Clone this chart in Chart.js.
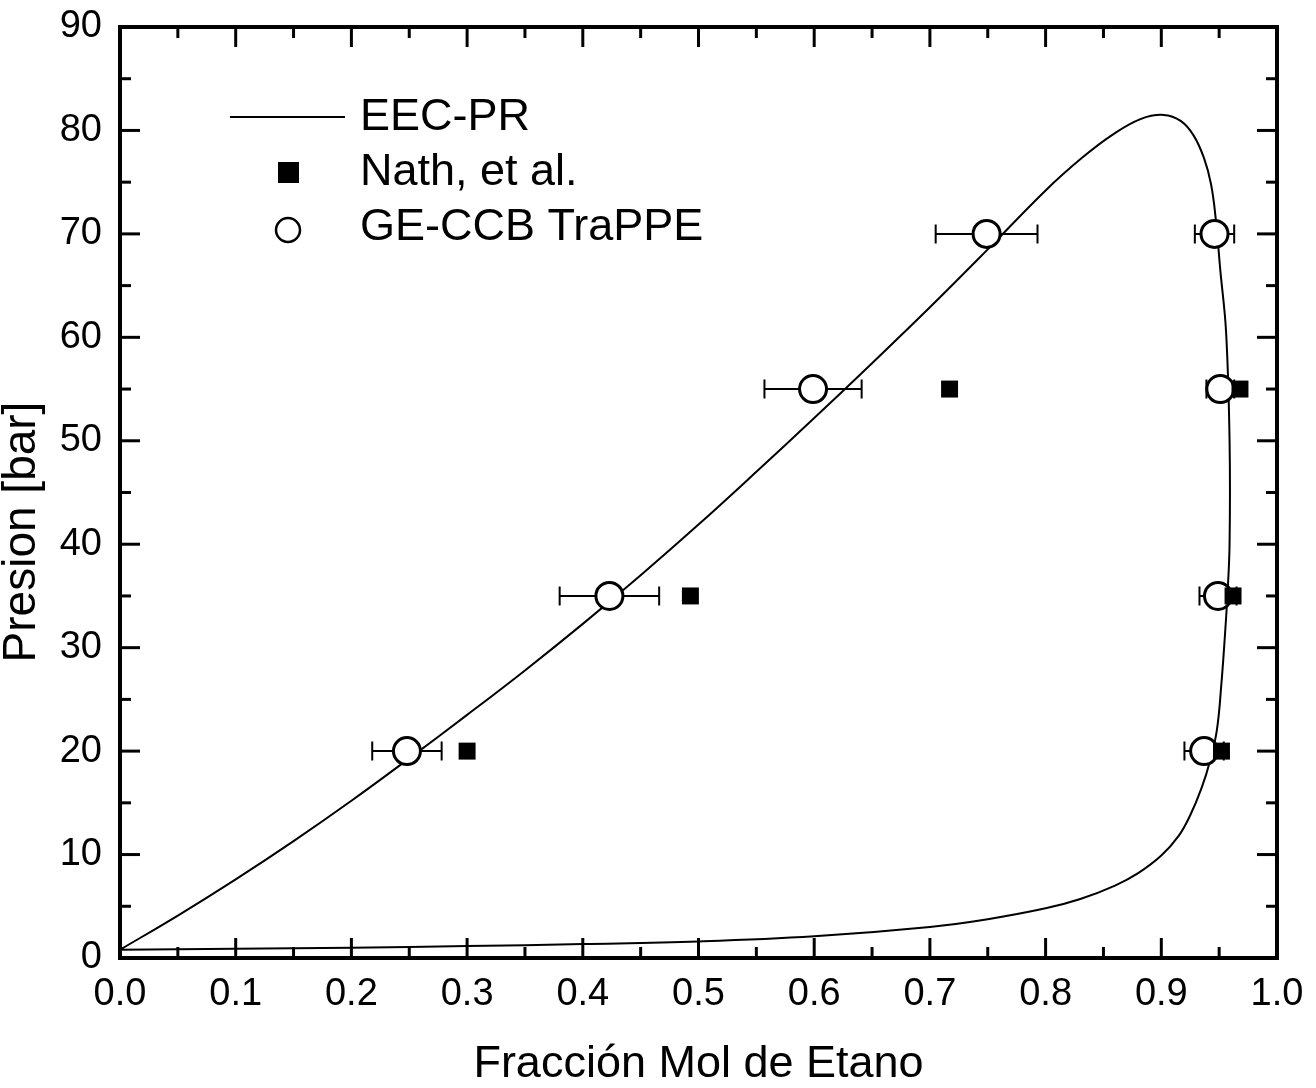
<!DOCTYPE html>
<html><head><meta charset="utf-8">
<script src="https://cdn.jsdelivr.net/npm/chart.js@4/dist/chart.umd.min.js"></script>
<style>html,body{margin:0;padding:0;background:#fff;} canvas{display:block;}</style>
</head><body>
<canvas id="c" width="1316" height="1088"></canvas>
<script>
// ---- data ----
const curveX = [0.000,0.050,0.100,0.150,0.200,0.250,0.300,0.350,0.400,0.450,0.500,0.550,0.600,0.650,0.700,0.750,0.800,0.832,0.858,0.882,0.902,0.917,0.928,0.937,0.943,0.947,0.951,0.956,0.959,0.959,0.957,0.955,0.952,0.948,0.942,0.935,0.925,0.915,0.900,0.880,0.860,0.830,0.800,0.750,0.700,0.600,0.500,0.400,0.300,0.200,0.100,0.000];
const curveP = [0.8,4.1,7.6,11.3,15.2,19.3,23.5,27.8,32.3,37.0,41.9,47.0,52.2,57.5,62.9,68.5,74.2,77.4,79.6,81.1,81.5,80.9,79.5,77.3,74.8,71.5,66.5,60.5,50.0,40.0,34.8,31.2,26.6,22.0,19.0,16.5,13.8,11.8,9.9,8.2,7.0,5.7,4.8,3.75,3.0,2.1,1.6,1.35,1.15,1.0,0.9,0.8];
const nathX = [0.300,0.493,0.717,0.968,0.962,0.952];
const nathP = [20,35,55,55,35,20];
const geX   = [0.248,0.423,0.599,0.749,0.946,0.951,0.949,0.937];
const geP   = [20,35,55,70,70,55,35,20];
const geErr = [0.030,0.043,0.042,0.044,0.017,0.012,0.016,0.017];
const xTicks = [0,0.1,0.2,0.3,0.4,0.5,0.6,0.7,0.8,0.9,1.0];
const yTicks = [0,10,20,30,40,50,60,70,80,90];
const labels = ['EEC-PR','Nath, et al.','GE-CCB TraPPE'];
const xTitle = 'Fracción Mol de Etano';
const yTitle = 'Presion [bar]';

const FONT = '"Liberation Sans", Arial, Helvetica, sans-serif';

const errorBars = {
  id: 'errorBars',
  beforeDatasetDraw(chart, args) {
    if (args.index !== 2) return;
    const {ctx, scales: {x, y}} = chart;
    ctx.save();
    ctx.strokeStyle = '#000';
    ctx.lineWidth = 2;
    for (let i = 0; i < geX.length; i++) {
      const py = y.getPixelForValue(geP[i]);
      const x1 = x.getPixelForValue(geX[i] - geErr[i]);
      const x2 = x.getPixelForValue(geX[i] + geErr[i]);
      ctx.beginPath();
      ctx.moveTo(x1, py); ctx.lineTo(x2, py);
      ctx.moveTo(x1, py - 9.5); ctx.lineTo(x1, py + 9.5);
      ctx.moveTo(x2, py - 9.5); ctx.lineTo(x2, py + 9.5);
      ctx.stroke();
    }
    ctx.restore();
  }
};

const frame = {
  id: 'frame',
  afterDatasetsDraw(chart) {
    const {ctx, chartArea: a, scales: {x, y}} = chart;
    ctx.save();
    ctx.strokeStyle = '#000';
    ctx.lineWidth = 3;
    const seg = (x1, y1, x2, y2) => { ctx.beginPath(); ctx.moveTo(x1, y1); ctx.lineTo(x2, y2); ctx.stroke(); };
    for (let i = 0; i < xTicks.length; i++) {
      const px = x.getPixelForValue(xTicks[i]);
      seg(px, a.bottom, px, a.bottom - 20);
      seg(px, a.top, px, a.top + 20);
      if (i < xTicks.length - 1) {
        const pm = x.getPixelForValue((xTicks[i] + xTicks[i + 1]) / 2);
        seg(pm, a.bottom, pm, a.bottom - 11);
        seg(pm, a.top, pm, a.top + 11);
      }
    }
    for (let i = 0; i < yTicks.length; i++) {
      const py = y.getPixelForValue(yTicks[i]);
      seg(a.left, py, a.left + 20, py);
      seg(a.right, py, a.right - 20, py);
      if (i < yTicks.length - 1) {
        const pm = y.getPixelForValue((yTicks[i] + yTicks[i + 1]) / 2);
        seg(a.left, pm, a.left + 11, pm);
        seg(a.right, pm, a.right - 11, pm);
      }
    }
    ctx.lineWidth = 4;
    ctx.strokeRect(a.left, a.top, a.right - a.left, a.bottom - a.top);

    // legend
    ctx.fillStyle = '#000';
    ctx.font = '45px ' + FONT;
    ctx.textBaseline = 'middle';
    ctx.textAlign = 'left';
    ctx.lineWidth = 2;
    seg(230, 117, 345, 117);
    ctx.fillText(labels[0], 360, 118);
    ctx.fillRect(278, 162, 21, 21);
    ctx.fillText(labels[1], 360, 173);
    ctx.beginPath(); ctx.arc(288, 230, 12, 0, Math.PI * 2);
    ctx.fillStyle = '#fff'; ctx.fill(); ctx.lineWidth = 2.5; ctx.stroke();
    ctx.fillStyle = '#000';
    ctx.fillText(labels[2], 360, 228);

    // y title
    ctx.save();
    ctx.translate(35, 532);
    ctx.rotate(-Math.PI / 2);
    ctx.textAlign = 'center';
    ctx.textBaseline = 'alphabetic';
    ctx.font = '46px ' + FONT;
    ctx.fillText(yTitle, 0, 0);
    ctx.restore();
    ctx.restore();
  }
};

new Chart(document.getElementById('c'), {
  type: 'scatter',
  data: {
    datasets: [
      {
        label: labels[0],
        data: curveX.map((v, i) => ({x: v, y: curveP[i]})),
        showLine: true, borderColor: '#000', borderWidth: 2, pointRadius: 0,
        tension: 0.4, fill: false, order: 3
      },
      {
        label: labels[1],
        data: nathX.map((v, i) => ({x: v, y: nathP[i]})),
        pointStyle: 'rect', pointRadius: 12, backgroundColor: '#000', borderColor: '#000',
        borderWidth: 0, order: 1
      },
      {
        label: labels[2],
        data: geX.map((v, i) => ({x: v, y: geP[i]})),
        pointStyle: 'circle', pointRadius: 13.5, backgroundColor: '#fff', borderColor: '#000',
        borderWidth: 3, order: 2
      }
    ]
  },
  options: {
    responsive: false,
    animation: false,
    events: [],
    layout: {padding: {top: 27, right: 39, left: 0, bottom: 0}},
    plugins: {legend: {display: false}, tooltip: {enabled: false}},
    scales: {
      x: {
        type: 'linear', min: 0, max: 1, position: 'bottom',
        afterFit: s => { s.height = 130; s.paddingLeft = 0; s.paddingRight = 0; },
        afterBuildTicks: s => { s.ticks = xTicks.map(v => ({value: v})); },
        ticks: {callback: v => v.toFixed(1), color: '#000', font: {family: FONT, size: 38}, padding: 14, maxRotation: 0, autoSkip: false},
        grid: {display: false, drawTicks: false},
        border: {display: false},
        title: {display: true, text: xTitle, color: '#000', font: {family: FONT, size: 45, lineHeight: 1.0}, padding: {top: 0, bottom: 1}}
      },
      y: {
        type: 'linear', min: 0, max: 90, position: 'left',
        afterFit: s => { s.width = 120; s.paddingTop = 0; s.paddingBottom = 0; },
        afterBuildTicks: s => { s.ticks = yTicks.map(v => ({value: v})); },
        ticks: {color: '#000', font: {family: FONT, size: 38}, padding: 18, autoSkip: false},
        grid: {display: false, drawTicks: false},
        border: {display: false}
      }
    }
  },
  plugins: [errorBars, frame]
});
</script>
</body></html>
